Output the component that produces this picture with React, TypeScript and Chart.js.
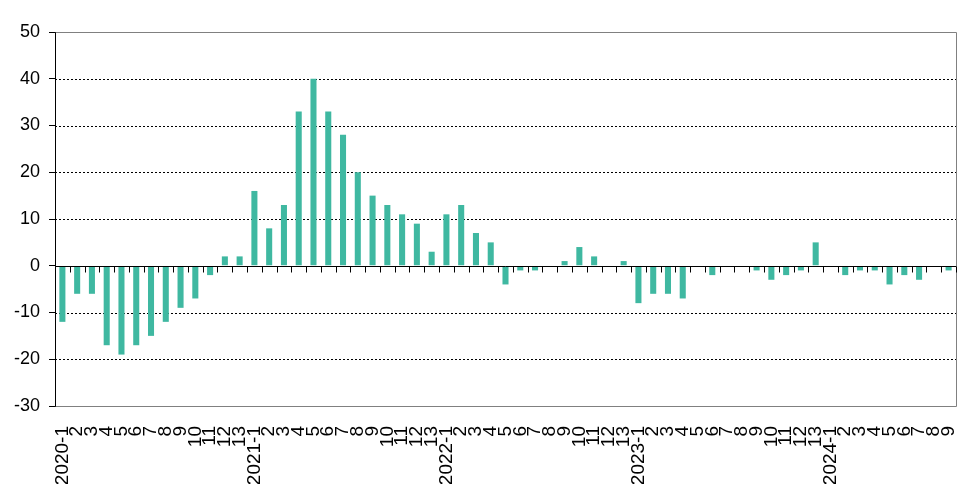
import React, { useEffect, useRef } from "react";
import { Chart, registerables } from "chart.js";

Chart.register(...registerables);

const labels = [
  "2020-1", "2", "3", "4", "5", "6", "7", "8", "9", "10", "11", "12", "13",
  "2021-1", "2", "3", "4", "5", "6", "7", "8", "9", "10", "11", "12", "13",
  "2022-1", "2", "3", "4", "5", "6", "7", "8", "9", "10", "11", "12", "13",
  "2023-1", "2", "3", "4", "5", "6", "7", "8", "9", "10", "11", "12", "13",
  "2024-1", "2", "3", "4", "5", "6", "7", "8", "9",
];

const values = [
  -12, -6, -6, -17, -19, -17, -15, -12, -9, -7, -2, 2, 2,
  16, 8, 13, 33, 40, 33, 28, 20, 15, 13, 11, 9, 3,
  11, 13, 7, 5, -4, -1, -1, 0, 1, 4, 2, 0, 1,
  -8, -6, -6, -7, 0, -2, 0, 0, -1, -3, -2, -1, 5,
  0, -2, -1, -1, -4, -2, -3, 0, -1,
];

const yMin = -30;
const yMax = 50;
const yStep = 10;
const barColor = "#3FB8A1";
const fontFamily = "'Liberation Sans', Arial, sans-serif";

const framePlugin = {
  id: "framePlugin",
  beforeDatasetsDraw(chart: any) {
    const { ctx, chartArea } = chart;
    const y = chart.scales.y;
    ctx.save();
    ctx.strokeStyle = "#000";
    ctx.lineWidth = 1;
    ctx.setLineDash([2, 2]);
    for (let v = yMin + yStep; v < yMax; v += yStep) {
      if (v === 0) continue;
      const py = Math.round(y.getPixelForValue(v)) + 0.5;
      ctx.beginPath();
      ctx.moveTo(chartArea.left, py);
      ctx.lineTo(chartArea.right, py);
      ctx.stroke();
    }
    ctx.restore();
  },
  afterDatasetsDraw(chart: any) {
    const { ctx, chartArea } = chart;
    const y = chart.scales.y;
    ctx.save();
    ctx.strokeStyle = "#808080";
    ctx.lineWidth = 1;
    const top = Math.round(chartArea.top) + 0.5;
    const bottom = Math.round(chartArea.bottom) + 0.5;
    const right = Math.round(chartArea.right) + 0.5;
    const left = Math.round(chartArea.left) + 0.5;
    ctx.beginPath();
    ctx.moveTo(left, top);
    ctx.lineTo(right, top);
    ctx.lineTo(right, bottom);
    ctx.lineTo(left, bottom);
    ctx.stroke();
    const zy = Math.round(y.getPixelForValue(0)) + 0.5;
    ctx.strokeStyle = "#000";
    ctx.beginPath();
    ctx.moveTo(chartArea.left, zy);
    ctx.lineTo(chartArea.right, zy);
    ctx.stroke();
    const n = labels.length;
    const w = (chartArea.right - chartArea.left) / n;
    for (let i = 0; i <= n; i++) {
      const px = Math.round(chartArea.left + i * w) + 0.5;
      ctx.beginPath();
      ctx.moveTo(px, zy);
      ctx.lineTo(px, zy + 6);
      ctx.stroke();
    }
    ctx.beginPath();
    ctx.moveTo(left, top);
    ctx.lineTo(left, bottom);
    ctx.stroke();
    ctx.restore();
  },
};

export default function App() {
  const canvasRef = useRef<HTMLCanvasElement | null>(null);

  useEffect(() => {
    if (!canvasRef.current) return;
    const chart = new Chart(canvasRef.current, {
      type: "bar",
      data: {
        labels,
        datasets: [
          {
            data: values,
            backgroundColor: barColor,
            borderWidth: 0,
            barPercentage: 0.41,
            categoryPercentage: 1,
          },
        ],
      },
      options: {
        animation: false,
        responsive: true,
        maintainAspectRatio: false,
        layout: { padding: { left: 0, right: 13, top: 24, bottom: 0 } },
        plugins: {
          legend: { display: false },
          tooltip: { enabled: false },
        },
        scales: {
          x: {
            type: "category",
            grid: { display: false },
            border: { display: false },
            ticks: {
              autoSkip: false,
              minRotation: 90,
              maxRotation: 90,
              padding: 12,
              color: "#000",
              font: { family: fontFamily, size: 19 },
            },
            afterFit(scale: any) {
              scale.height = 78;
              scale.paddingLeft = 0;
              scale.paddingRight = 0;
            },
          },
          y: {
            min: yMin,
            max: yMax,
            grid: {
              display: true,
              drawOnChartArea: false,
              drawTicks: true,
              tickLength: 6,
              color: "#000",
            },
            border: { display: true, color: "#000", width: 1 },
            ticks: {
              stepSize: yStep,
              padding: 9,
              color: "#000",
              font: { family: fontFamily, size: 18 },
            },
            afterFit(scale: any) {
              scale.width = 47;
              scale.paddingTop = 0;
              scale.paddingBottom = 0;
            },
          },
        },
      },
      plugins: [framePlugin],
    });
    return () => chart.destroy();
  }, []);

  return (
    <div style={{ width: 961, height: 476, position: "relative" }}>
      <canvas ref={canvasRef} />
    </div>
  );
}
